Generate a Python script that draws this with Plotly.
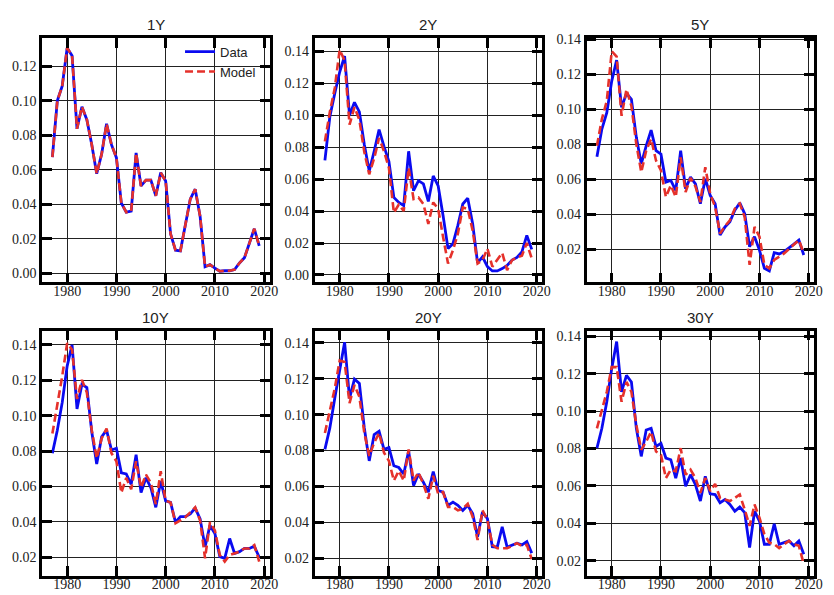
import plotly.graph_objects as go

# Annual yields by maturity, 1977-2019: observed data vs. model fit
years = list(range(1977, 2020))
maturities = ["1Y", "2Y", "5Y", "10Y", "20Y", "30Y"]

data_1y = [.0673, .0999, .1085, .1305, .1260, .0837, .0965, .0890, .0745, .0577,
           .0690, .0866, .0745, .0670, .0407, .0354, .0360, .0697, .0506, .0540,
           .0540, .0449, .0583, .0535, .0229, .0134, .0130, .0280, .0430, .0487,
           .0330, .0038, .0050, .0030, .0012, .0015, .0015, .0022, .0060, .0090,
           .0170, .0258, .0159]
model_1y = [.0673, .0999, .1085, .1305, .1260, .0837, .0965, .0890, .0745, .0577,
            .0690, .0866, .0745, .0670, .0407, .0354, .0360, .0697, .0506, .0540,
            .0540, .0449, .0583, .0535, .0229, .0134, .0130, .0280, .0430, .0487,
            .0330, .0038, .0050, .0030, .0012, .0015, .0015, .0022, .0060, .0090,
            .0170, .0258, .0159]

data_2y = [.0717, .0990, .1136, .1270, .1370, .1000, .1080, .1020, .0816, .0650,
           .0774, .0910, .0805, .0710, .0485, .0454, .0434, .0774, .0527, .0590,
           .0570, .0460, .0620, .0557, .0370, .0165, .0196, .0310, .0444, .0480,
           .0320, .0076, .0114, .0052, .0025, .0025, .0040, .0060, .0093, .0110,
           .0145, .0248, .0160]
model_2y = [.0836, .1020, .1170, .1410, .1340, .0940, .1050, .0970, .0770, .0630,
            .0730, .0857, .0774, .0670, .0390, .0440, .0400, .0670, .0475, .0485,
            .0444, .0320, .0454, .0413, .0237, .0072, .0155, .0258, .0423, .0413,
            .0279, .0072, .0093, .0165, .0052, .0093, .0138, .0030, .0093, .0110,
            .0120, .0200, .0103]

data_5y = [.0729, .0886, .0980, .1160, .1280, .1010, .1090, .1056, .0839, .0688,
           .0790, .0880, .0763, .0744, .0584, .0593, .0536, .0763, .0546, .0612,
           .0574, .0460, .0603, .0508, .0460, .0281, .0328, .0357, .0423, .0465,
           .0404, .0215, .0272, .0196, .0092, .0077, .0181, .0174, .0187, .0206,
           .0230, .0253, .0168]
model_5y = [.0791, .0943, .1047, .1330, .1300, .0962, .1113, .1018, .0800, .0640,
            .0763, .0830, .0706, .0650, .0499, .0565, .0499, .0725, .0527, .0608,
            .0559, .0470, .0669, .0517, .0442, .0290, .0332, .0366, .0432, .0461,
            .0385, .0111, .0328, .0272, .0111, .0092, .0140, .0158, .0177, .0202,
            .0225, .0253, .0177]

data_10y = [.0788, .0918, .1075, .1280, .1400, .1038, .1177, .1159, .0908, .0727,
            .0880, .0918, .0806, .0816, .0677, .0671, .0612, .0779, .0565, .0649,
            .0593, .0482, .0630, .0519, .0510, .0398, .0430, .0430, .0445, .0478,
            .0417, .0259, .0380, .0334, .0204, .0194, .0306, .0222, .0232, .0250,
            .0250, .0263, .0200]
model_10y = [.0899, .1057, .1224, .1410, .1372, .1094, .1202, .1131, .0918, .0760,
             .0871, .0927, .0788, .0742, .0565, .0649, .0584, .0742, .0593, .0667,
             .0621, .0500, .0686, .0519, .0510, .0393, .0408, .0426, .0454, .0482,
             .0408, .0194, .0398, .0352, .0213, .0176, .0213, .0222, .0232, .0250,
             .0250, .0269, .0176]

data_20y = [.0806, .0926, .1091, .1257, .1404, .1091, .1198, .1174, .0926, .0742,
            .0889, .0907, .0806, .0816, .0715, .0705, .0669, .0797, .0604, .0669,
            .0623, .0568, .0683, .0577, .0568, .0494, .0512, .0494, .0466, .0494,
            .0448, .0319, .0457, .0420, .0264, .0261, .0375, .0261, .0274, .0283,
            .0274, .0292, .0228]
model_20y = [.0898, .1018, .1146, .1302, .1293, .1064, .1165, .1100, .0898, .0770,
             .0843, .0898, .0788, .0742, .0632, .0687, .0632, .0806, .0632, .0678,
             .0613, .0531, .0659, .0558, .0568, .0485, .0485, .0466, .0476, .0503,
             .0430, .0301, .0466, .0411, .0274, .0255, .0255, .0255, .0268, .0283,
             .0268, .0274, .0194]

data_30y = [.0802, .0908, .1050, .1227, .1372, .1103, .1191, .1156, .0908, .0758,
            .0899, .0908, .0811, .0828, .0749, .0740, .0642, .0749, .0598, .0660,
            .0607, .0519, .0651, .0558, .0554, .0510, .0527, .0501, .0465, .0487,
            .0457, .0271, .0465, .0412, .0288, .0288, .0398, .0288, .0297, .0306,
            .0280, .0306, .0235]
model_30y = [.0908, .1005, .1103, .1235, .1235, .1050, .1156, .1103, .0926, .0793,
             .0837, .0890, .0784, .0766, .0642, .0687, .0678, .0802, .0660, .0687,
             .0642, .0563, .0642, .0572, .0611, .0536, .0527, .0519, .0536, .0554,
             .0474, .0386, .0501, .0430, .0342, .0297, .0288, .0267, .0288, .0306,
             .0288, .0280, .0182]

data_series = [data_1y, data_2y, data_5y, data_10y, data_20y, data_30y]
model_series = [model_1y, model_2y, model_5y, model_10y, model_20y, model_30y]

x_ticks = [1980, 1990, 2000, 2010, 2020]
y_ranges = [[-0.0053, 0.1363], [-0.0047, 0.1483], [0.0011, 0.1406],
            [0.0096, 0.1480], [0.0102, 0.1468], [0.0120, 0.1430]]

W, H = 834, 595
col_px = [(42.5, 272.5), (318, 548), (593, 823)]
row_px = [(32.3, 279.3), (328.0, 575.5)]

BLUE = "#0a0af0"
RED = "#e5312b"
SERIF = "Liberation Serif, Times New Roman, serif"
SANS = "Liberation Sans, Arial, sans-serif"

fig = go.Figure()
layout = dict(
    width=W, height=H,
    margin=dict(l=0, r=0, t=0, b=0),
    paper_bgcolor="white", plot_bgcolor="white",
    showlegend=True,
    legend=dict(
        x=182 / W, y=1 - 31 / H, xanchor="left", yanchor="top",
        bgcolor="rgba(255,255,255,0)", borderwidth=0,
        font=dict(family=SANS, size=13, color="#222"),
        tracegroupgap=0, itemwidth=30,
    ),
    annotations=[],
)

axis_common = dict(
    showline=True, linecolor="black", linewidth=2.5, mirror="ticks",
    ticks="inside", ticklen=10, tickwidth=2.5, tickcolor="black",
    showgrid=True, gridcolor="#222", gridwidth=1,
    zeroline=False,
    tickfont=dict(family=SERIF, size=14, color="#222"),
)

for i, name in enumerate(maturities):
    r, c = divmod(i, 3)
    xa = "x" if i == 0 else f"x{i + 1}"
    ya = "y" if i == 0 else f"y{i + 1}"
    x0, x1 = col_px[c]
    top, bot = row_px[r]
    layout["xaxis" if i == 0 else f"xaxis{i + 1}"] = dict(
        axis_common, domain=[x0 / W, x1 / W], anchor=ya,
        range=[1974.9, 2021.1], tickvals=x_ticks, ticklabelstandoff=-6,
    )
    layout["yaxis" if i == 0 else f"yaxis{i + 1}"] = dict(
        axis_common, domain=[1 - bot / H, 1 - top / H], anchor=xa,
        range=y_ranges[i], tick0=0, dtick=0.02, tickformat=".2f",
    )
    fig.add_trace(go.Scatter(
        x=years, y=data_series[i], mode="lines", name="Data",
        line=dict(color=BLUE, width=2.8), xaxis=xa, yaxis=ya,
        showlegend=(i == 0),
    ))
    fig.add_trace(go.Scatter(
        x=years, y=model_series[i], mode="lines", name="Model",
        line=dict(color=RED, width=2.6, dash="8px,4px"), xaxis=xa, yaxis=ya,
        showlegend=(i == 0),
    ))
    layout["annotations"].append(dict(
        text=name, x=(x0 + x1) / 2 / W, y=1 - top / H,
        xref="paper", yref="paper", xanchor="center", yanchor="bottom",
        yshift=3, showarrow=False,
        font=dict(family=SANS, size=15, color="#222"),
    ))

fig.update_layout(**layout)
fig.write_html("out.html")
